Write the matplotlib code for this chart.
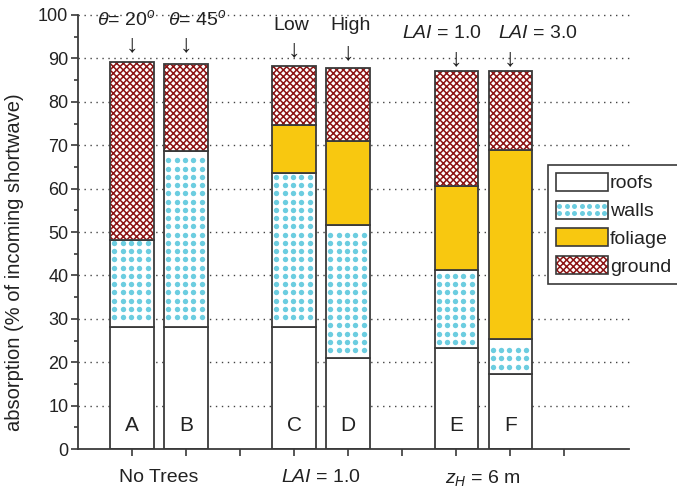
import numpy as np
import matplotlib
matplotlib.use("Agg")
import matplotlib.pyplot as plt
from matplotlib.patches import Rectangle
from matplotlib.lines import Line2D
from matplotlib.legend_handler import HandlerBase, HandlerTuple

plt.rcParams['font.family'] = ['Liberation Sans', 'DejaVu Sans']
plt.rcParams['mathtext.fontset'] = 'custom'
plt.rcParams['mathtext.rm'] = 'Liberation Sans'
plt.rcParams['mathtext.it'] = 'Liberation Sans:italic'
plt.rcParams['hatch.linewidth'] = 1.1

# absorbed shortwave by surface, % of incoming
cases = ['A', 'B', 'C', 'D', 'E', 'F']
xpos = [1, 2, 4, 5, 7, 8]
roofs = [28.2, 28.2, 28.2, 21.0, 23.3, 17.2]
walls = [20.0, 40.5, 35.4, 30.7, 18.0, 8.1]
foliage = [0.0, 0.0, 11.0, 19.2, 19.3, 43.6]
ground = [41.0, 19.9, 13.7, 16.9, 26.6, 18.3]

top_labels = [r'$\theta$= 20$^o$', r'$\theta$= 45$^o$', 'Low', 'High',
              r'$LAI$ = 1.0', r'$LAI$ = 3.0']
top_label_x = [0.9, 2.2, 3.95, 5.05, 6.73, 8.52]
top_label_y = [99.0, 99.0, 97.5, 97.5, 95.8, 95.8]
arrow_y = [93.2, 93.2, 92.2, 91.4, 90.1, 90.1]

groups = ['No Trees', r'$LAI$ = 1.0', r'$z_H$ = 6 m']
group_x = [1.5, 4.5, 7.5]

edge = '#3a3a3a'
dot_col = '#6ccde0'
fol_col = '#f8c810'
gr_col = '#8c1414'
txt = '#222222'
W = 0.8

fig = plt.figure(figsize=(6.77, 4.95), dpi=100)
ax = fig.add_axes([0.1152, 0.0929, 0.8139, 0.8768])

x = np.array(xpos, dtype=float)
r = np.array(roofs)
w = np.array(walls)
f = np.array(foliage)
g = np.array(ground)

ax.bar(x, r, W, color='white', edgecolor=edge, lw=1.3, zorder=2)
wb = ax.bar(x, w, W, bottom=r, color='white', edgecolor=edge, lw=1.3, zorder=2)
ax.bar(x, f, W, bottom=r + w, color=fol_col, edgecolor=edge, lw=1.3, zorder=2)
ax.bar(x, g, W, bottom=r + w + f, color='white', edgecolor=gr_col, hatch='xxxxx', lw=0, zorder=2)
ax.bar(x, g, W, bottom=r + w + f, fill=False, edgecolor=edge, lw=1.3, zorder=3)

# dotted fill for the walls segments
dx, dy = 0.154, 1.9
for xc, b, h, patch in zip(x, r, w, wb.patches):
    cols = xc - W / 2 + 0.074 + dx * np.arange(5)
    rows = np.arange(np.ceil((b + 0.9) / dy), np.floor((b + h - 0.6) / dy) + 1) * dy
    xx, yy = np.meshgrid(cols, rows)
    sc = ax.scatter(xx.ravel(), yy.ravel(), s=15, color=dot_col, lw=0, zorder=2.5)
    sc.set_clip_path(patch)

for xc, c in zip(x, cases):
    ax.text(xc, 5.4, c, ha='center', va='center', fontsize=15, color=txt, zorder=4)

for lab, lx, ly, xc, ay in zip(top_labels, top_label_x, top_label_y, x, arrow_y):
    ax.text(lx, ly, lab, ha='center', va='center', fontsize=14, color=txt, clip_on=False)
    ax.text(xc, ay, '\u2193', ha='center', va='center', fontsize=18, color=txt)

for lab, gx in zip(groups, group_x):
    ax.text(gx, -6.6, lab, ha='center', va='center', fontsize=14, color=txt, clip_on=False)

ax.set_xlim(0, 10.2)
ax.set_ylim(0, 100)
ax.set_xticks(range(1, 10))
ax.set_xticklabels([])
ax.set_yticks(range(0, 101, 10))
ax.set_yticks(range(5, 100, 10), minor=True)
ax.tick_params(axis='both', which='major', direction='out', length=5, width=1.2,
               color=edge, labelsize=13, labelcolor=txt, pad=2)
ax.tick_params(axis='y', which='minor', direction='out', length=3, width=1.2, color=edge)
for s in ['top', 'right']:
    ax.spines[s].set_visible(False)
for s in ['left', 'bottom']:
    ax.spines[s].set_color(edge)
    ax.spines[s].set_linewidth(1.3)
for yv in range(10, 101, 10):
    ax.axhline(yv, color='#444444', lw=1.0, ls=(0, (1, 3.3)), zorder=1, clip_on=False)
ax.set_ylabel('absorption (% of incoming shortwave)', fontsize=14.5, color=txt)
ax.yaxis.set_label_coords(-0.098, 0.431)


class DotFill(HandlerBase):
    def create_artists(self, legend, orig_handle, xdescent, ydescent, width, height,
                       fontsize, trans):
        box = Rectangle((-xdescent, -ydescent), width, height, facecolor='white',
                        edgecolor=edge, lw=1.2, transform=trans)
        gx = np.linspace(-xdescent + width * 0.07, -xdescent + width * 0.93, 7)
        gy = [-ydescent + height * 0.3, -ydescent + height * 0.72]
        xx, yy = np.meshgrid(gx, gy)
        dots = Line2D(xx.ravel(), yy.ravel(), ls='none', marker='o', ms=3.6,
                      mfc=dot_col, mec='none', transform=trans)
        return [box, dots]


h_roofs = Rectangle((0, 0), 1, 1, facecolor='white', edgecolor=edge, lw=1.2)
h_walls = Rectangle((0, 0), 1, 1)
h_fol = Rectangle((0, 0), 1, 1, facecolor=fol_col, edgecolor=edge, lw=1.2)
h_gr = (Rectangle((0, 0), 1, 1, facecolor='white', edgecolor=gr_col, hatch='xxxxx', lw=0),
        Rectangle((0, 0), 1, 1, fill=False, edgecolor=edge, lw=1.2))
leg = fig.legend([h_roofs, h_walls, h_fol, h_gr], ['roofs', 'walls', 'foliage', 'ground'],
                 handler_map={h_walls: DotFill(), tuple: HandlerTuple(ndivide=1)},
                 loc='upper left', bbox_to_anchor=(0.8095, 0.6667), borderaxespad=0,
                 fontsize=14, handlelength=2.67, handleheight=1.05, handletextpad=0.12,
                 labelspacing=0.42, borderpad=0.4, fancybox=False, framealpha=1)
leg.get_frame().set_edgecolor(edge)
leg.get_frame().set_linewidth(1.2)
for t in leg.get_texts():
    t.set_color(txt)

fig.savefig('out.png', dpi=100)
